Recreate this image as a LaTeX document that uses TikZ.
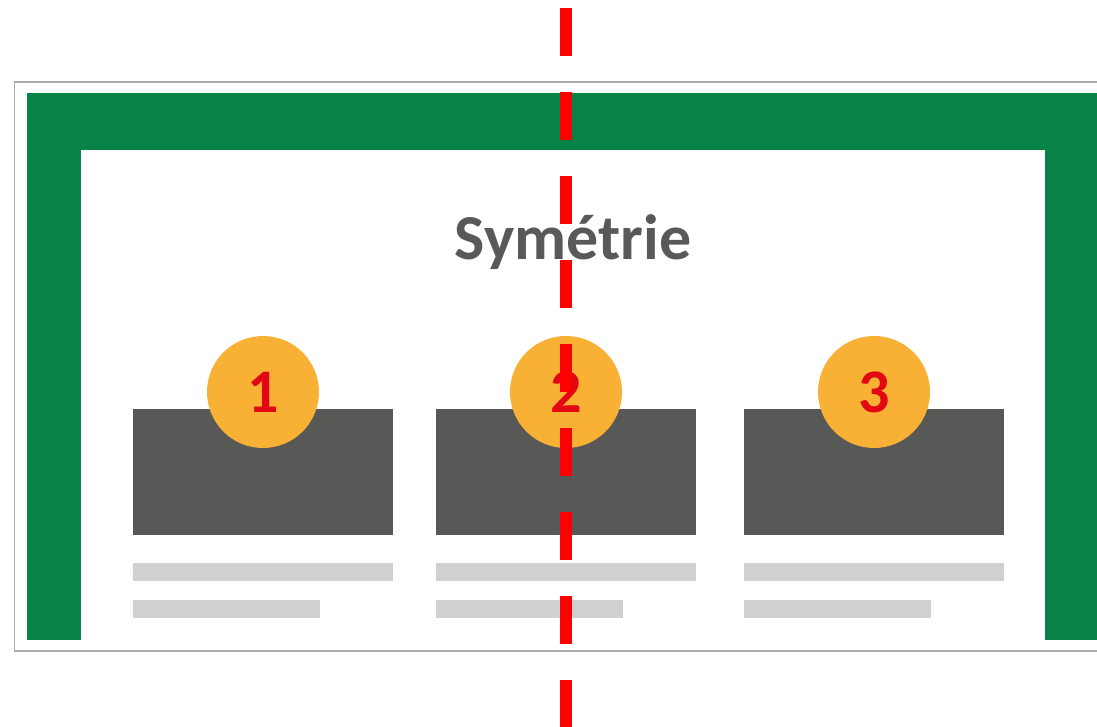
\documentclass[tikz,border=0pt]{standalone}
\usepackage{fontspec}
\setmainfont{Carlito}
\begin{document}
\begin{tikzpicture}[x=1pt,y=-1pt,
  card/.style={fill=cardgray,draw=none,minimum width=260pt,minimum height=126pt,inner sep=0pt,anchor=north west},
  longbar/.style={fill=bargray,draw=none,minimum width=260pt,minimum height=18pt,inner sep=0pt,anchor=north west},
  shortbar/.style={fill=bargray,draw=none,minimum width=187pt,minimum height=18pt,inner sep=0pt,anchor=north west},
  badge/.style={circle,fill=badgeorange,draw=none,minimum size=112pt,inner sep=0pt,
    text=numred,font=\bfseries\fontsize{62}{62}\selectfont},
  axis/.style={draw=axisred,line width=12pt,dash pattern=on 48pt off 36pt}]
\definecolor{framegray}{HTML}{ABABAB}
\definecolor{bordergreen}{HTML}{078348}
\definecolor{cardgray}{HTML}{585856}
\definecolor{bargray}{HTML}{D0D0CE}
\definecolor{badgeorange}{HTML}{F8B134}
\definecolor{numred}{HTML}{E30613}
\definecolor{axisred}{HTML}{FF0000}
\definecolor{titlegray}{HTML}{595959}
\useasboundingbox (0,0) rectangle (1097,727);
\clip (0,0) rectangle (1097,727);
% outer page frame
\draw[framegray,line width=1.5pt] (14.5,82) rectangle (1130,651);
% green border with white content area
\fill[bordergreen] (27,93) rectangle (1130,640);
\fill[white] (81,150) rectangle (1045,640);
% title
\node[text=titlegray,font=\bfseries\fontsize{64}{64}\selectfont] (title) at (573,242) {Symétrie};
% cards
\node[card] (c1) at (133,409) {};
\node[card] (c2) at (436,409) {};
\node[card] (c3) at (744,409) {};
% text placeholder bars
\node[longbar] (l1) at (133,563) {};
\node[longbar] (l2) at (436,563) {};
\node[longbar] (l3) at (744,563) {};
\node[shortbar] (s1) at (133,600) {};
\node[shortbar] (s2) at (436,600) {};
\node[shortbar] (s3) at (744,600) {};
% numbered badges
\node[badge] (b1) at (263,392) {1};
\node[badge] (b2) at (566,392) {2};
\node[badge] (b3) at (874,392) {3};
% symmetry axis
\coordinate (top) at (566,8);
\coordinate (bottom) at (566,740);
\draw[axis] (top) -- (bottom);
\end{tikzpicture}
\end{document}
